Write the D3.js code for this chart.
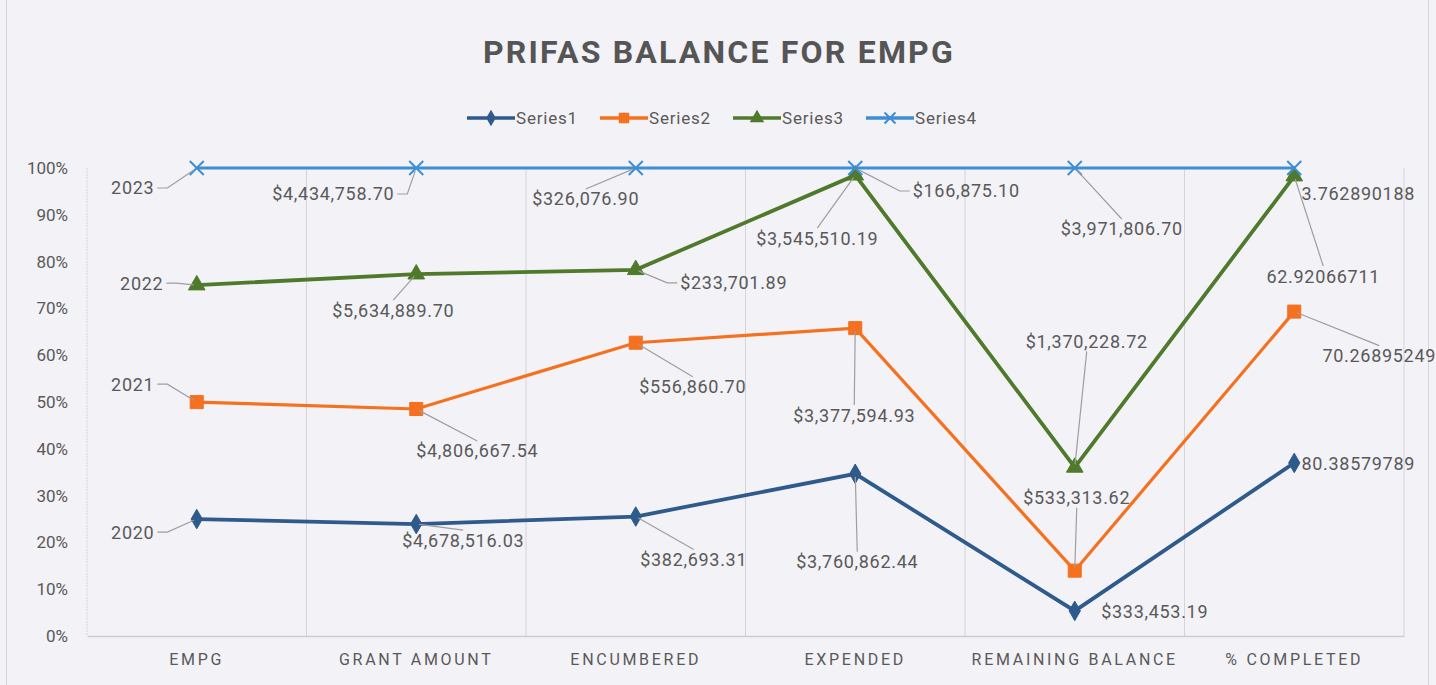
<!DOCTYPE html>
<html>
<head>
<meta charset="utf-8">
<script src="https://cdn.jsdelivr.net/npm/d3@7"></script>
<style>
  html, body { margin: 0; padding: 0; background: #f3f2f7; }
  svg { display: block; }
</style>
</head>
<body>
<svg id="chart" width="1436" height="685"></svg>
<script>
// ---------------- DATA ----------------
const categories = ["EMPG", "GRANT AMOUNT", "ENCUMBERED", "EXPENDED", "REMAINING BALANCE", "% COMPLETED"];
const seriesNames = ["Series1", "Series2", "Series3", "Series4"];
const series1 = [2020, 4678516.03, 382693.31, 3760862.44, 333453.19, 80.38579789];
const series2 = [2021, 4806667.54, 556860.70, 3377594.93, 533313.62, 70.26895249];
const series3 = [2022, 5634889.70, 233701.89, 3545510.19, 1370228.72, 62.92066711];
const series4 = [2023, 4434758.70, 326076.90, 166875.10, 3971806.70, 3.762890188];
const yTicks = [0, 0.1, 0.2, 0.3, 0.4, 0.5, 0.6, 0.7, 0.8, 0.9, 1.0];
const title = "PRIFAS BALANCE FOR EMPG";

// ---------------- LAYOUT / STYLE ----------------
const W = 1436, H = 685;
const plot = { left: 87, right: 1404, top: 168, bottom: 636 };
const colors = ["#2e5a8c", "#f5701f", "#4f7a2b", "#3d8ed4"];
const textColor = "#595959";
// manual label offsets (dx, dy, leader?) from each point, as placed in the original
const labelOffsets = [
  [[-64, 13, 1], [47, 16, 1], [58, 43, 1], [2, 88, 1], [80, 1, 0], [64, 1, 0]],
  [[-64, -18, 1], [61, 42, 1], [57, 44, 1], [-1, 87, 1], [2, -73, 1], [85, 44, 1]],
  [[-55, -2, 1], [-23, 36, 1], [98, 13, 1], [-38, 63, 1], [12, -126, 1], [29, 100, 1]],
  [[-64, 20, 1], [-83, 26, 1], [-50, 31, 1], [111, 23, 1], [47, 61, 1], [64, 26, 0]]
];

const seriesValues = [series1, series2, series3, series4];
const rows = categories.map((c, i) => {
  const r = { cat: c };
  seriesNames.forEach((s, k) => r[s] = seriesValues[k][i]);
  return r;
});
const stacked = d3.stack().keys(seriesNames).offset(d3.stackOffsetExpand)(rows);

const svg = d3.select("#chart");
svg.append("rect").attr("width", W).attr("height", H).attr("fill", "#f3f2f7");
svg.append("rect").attr("x", 6.5).attr("y", -2).attr("width", 1422).attr("height", 700)
  .attr("fill", "none").attr("stroke", "#d9d5de").attr("stroke-width", 1);

const x = d3.scaleBand().domain(categories).range([plot.left, plot.right]);
const y = d3.scaleLinear().domain([0, 1]).range([plot.bottom, plot.top]);
const cx = c => x(c) + x.bandwidth() / 2;

// Title
svg.append("text").attr("x", 719).attr("y", 63).attr("text-anchor", "middle")
  .attr("font-family", "Roboto, 'Noto Sans', sans-serif").attr("font-weight", "bold")
  .attr("font-size", 32).attr("letter-spacing", 2.2).attr("fill", "#555")
  .text(title);

// Legend
const symbols = [d3.symbolDiamond, d3.symbolSquare, d3.symbolTriangle, d3.symbolTimes];
const lg = svg.append("g");
const legStart = 467, legStep = 133;
seriesNames.forEach((s, k) => {
  const g = lg.append("g").attr("transform", `translate(${legStart + k * legStep},118)`);
  g.append("line").attr("x1", 0).attr("x2", 48).attr("stroke", colors[k]).attr("stroke-width", 3.5);
  const p = g.append("path").attr("transform", "translate(24,0)")
    .attr("d", d3.symbol(symbols[k], [80, 110, 90, 80][k])());
  if (k === 3) p.attr("fill", "none").attr("stroke", colors[k]).attr("stroke-width", 2);
  else p.attr("fill", colors[k]);
  g.append("text").attr("x", 49).attr("y", 0).attr("dy", "0.36em")
    .attr("font-family", "Roboto, sans-serif").attr("font-size", 17).attr("letter-spacing", 0.8)
    .attr("fill", textColor).text(s);
});

// Gridlines (vertical at category boundaries)
const grid = svg.append("g");
categories.forEach(c => {
  const gx = x(c) + x.bandwidth();
  grid.append("line").attr("x1", gx).attr("x2", gx).attr("y1", plot.top).attr("y2", plot.bottom)
    .attr("stroke", "#d6d3da").attr("stroke-width", 1);
});
grid.append("line").attr("x1", plot.left).attr("x2", plot.left).attr("y1", plot.top).attr("y2", plot.bottom)
  .attr("stroke", "#d8d0d6").attr("stroke-width", 1).attr("stroke-dasharray", "2,1");

// Y axis
const yAxis = d3.axisLeft(y).tickValues(yTicks).tickFormat(d3.format(".0%")).tickSize(0).tickPadding(19);
const yg = svg.append("g").attr("transform", `translate(${plot.left},0)`).call(yAxis);
yg.select(".domain").remove();
yg.selectAll("text").attr("font-family", "Roboto, sans-serif").attr("font-size", 17)
  .attr("fill", textColor);

// X axis
const xAxis = d3.axisBottom(x).tickSize(0).tickPadding(18);
const xg = svg.append("g").attr("transform", `translate(0,${plot.bottom})`).call(xAxis);
xg.select(".domain").attr("stroke", "#d0ccd4").attr("stroke-width", 1.5);
xg.selectAll("text").attr("font-family", "Roboto, sans-serif").attr("font-size", 16)
  .attr("letter-spacing", 2.7).attr("fill", textColor);

// Lines
const lineGen = d3.line().x(d => cx(d.data.cat)).y(d => y(d[1]));
const widths = [3.8, 3.2, 3.8, 3.2];
stacked.forEach((ser, k) => {
  svg.append("path").datum(ser).attr("fill", "none").attr("stroke", colors[k])
    .attr("stroke-width", widths[k]).attr("stroke-linejoin", "miter").attr("d", lineGen);
});

// Markers
const markSizes = [110, 170, 120, 130];
stacked.forEach((ser, k) => {
  svg.append("g").selectAll("path").data(ser).join("path")
    .attr("transform", d => `translate(${cx(d.data.cat)},${y(d[1])})`)
    .attr("d", d3.symbol(symbols[k], markSizes[k])())
    .attr("fill", k === 3 ? "none" : colors[k])
    .attr("stroke", colors[k]).attr("stroke-width", k === 3 ? 2 : 1);
});

// Data labels with leader lines
function fmt(v, i) {
  if (i === 0) return d3.format("d")(v);
  if (i === categories.length - 1) return String(v);
  return "$" + d3.format(",.2f")(v);
}
const labG = svg.append("g");
const leadG = svg.append("g");
stacked.forEach((ser, k) => {
  ser.forEach((d, i) => {
    const px = cx(d.data.cat), py = y(d[1]);
    const [dx, dy, lead] = labelOffsets[k][i];
    const lx = px + dx, ly = py + dy;
    const t = labG.append("text").attr("x", lx).attr("y", ly).attr("dy", "0.36em")
      .attr("text-anchor", "middle").attr("font-family", "Roboto, sans-serif")
      .attr("font-size", 18).attr("letter-spacing", 0.7).attr("fill", textColor)
      .text(fmt(d.data[seriesNames[k]], i));
    if (!lead) return;
    const w = t.node().getComputedTextLength(), h = 18;
    const L = lx - w / 2 - 3, R = lx + w / 2 + 3, T = ly - h / 2 - 1, B = ly + h / 2 + 1;
    const hg = Math.max(L - px, 0, px - R), vg = Math.max(T - py, 0, py - B);
    let pts;
    if (hg >= vg) {
      const sx = px < L ? L : R;
      const stub = px < L ? sx - 10 : sx + 10;
      pts = [[sx, ly], [stub, ly]];
      const ex = px - stub, ey = py - ly, len = Math.hypot(ex, ey);
      pts.push([px - ex / len * 3, py - ey / len * 3]);
    } else {
      const ey2 = py < T ? T : B;
      const sx = lx;
      const ex = px - sx, ey = py - ey2, len = Math.hypot(ex, ey);
      pts = [[sx, ey2], [px - ex / len * 3, py - ey / len * 3]];
    }
    leadG.append("path").attr("d", d3.line()(pts)).attr("fill", "none")
      .attr("stroke", "#9e9e9e").attr("stroke-width", 1.2);
  });
});
</script>
</body>
</html>
